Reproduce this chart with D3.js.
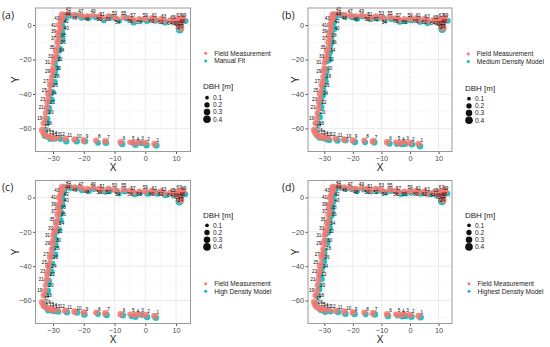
<!DOCTYPE html>
<html>
<head>
<meta charset="utf-8">
<script src="https://cdn.jsdelivr.net/npm/d3@7"></script>
<style>
body { margin: 0; background: #fff; }
svg { display: block; font-family: "Liberation Sans", Arial, sans-serif; }
</style>
</head>
<body>
<div id="chart"></div>
<script>
// tree ids and field measurements (m)
var treeId = [1,2,3,4,5,6,7,8,9,10,11,12,13,14,15,16,17,
	18,19,20,21,22,23,24,25,26,27,28,29,30,31,32,33,34,35,36,37,38,39,40,41,42,43,44,
	45,46,47,48,49,50,51,52,53,54,55,56,57,58,59,60,61,62,63,64,65,66,67,68,69,70,71,72];
var fieldX = [3,0,-2,-3.5,-5,-8,-13,-16,-20,-23,-26,-28.5,-30,-31,-32,-33,-33.5,
	-33,-32.5,-32.5,-32,-32,-31.5,-31.5,-31,-31,-30.5,-30.5,-30,-30,-30,-29.5,-29,-29,-28.5,-28.5,-28,-28.5,-28,-27.5,-28,-27.5,-27,-27,
	-25,-23,-21,-19,-17,-15,-14,-12,-10,-9,-7,-5,-4,-2,0,2,3,5,6,8,9,10,11,12,12.5,11.5,11.5,10.5];
var fieldY = [-69,-68.5,-68,-68.5,-68,-68,-67.5,-67,-67,-66.5,-66,-65.5,-65.5,-65,-64.5,-63,-61,
	-57,-54,-51,-48,-45,-43,-40,-38,-35,-33,-30,-27,-25,-22,-20,-18,-15,-13,-10,-8,-6,-4,-2,0,2,4,6,
	6.5,6,5.5,5,5.5,5,4,5,4.5,3.5,4.5,4,3,3.5,3.5,4,3,3.5,2.5,3,2,3,3.5,4,3,1,-1.5,0.5];
var dbh = [0.3,0.3,0.25,0.3,0.2,0.3,0.3,0.25,0.3,0.3,0.3,0.25,0.3,0.3,0.25,0.3,0.3,
	0.3,0.25,0.2,0.3,0.2,0.25,0.3,0.2,0.25,0.3,0.2,0.3,0.25,0.2,0.3,0.25,0.3,0.2,0.3,0.25,0.2,0.3,0.25,0.3,0.25,0.3,0.35,
	0.3,0.25,0.3,0.3,0.25,0.3,0.25,0.3,0.25,0.2,0.3,0.25,0.3,0.25,0.3,0.25,0.3,0.25,0.3,0.2,0.25,0.3,0.25,0.3,0.25,0.3,0.4,0.2];

// model position errors against field (m), per tree
var manualDx = [0.6,0.4,0.7,0.3,0.8,0.5,0.2,0.6,0.4,0.7,0.3,0.9,0.5,0.2,0.6,0.4,0.8,
	0.9,0.7,1.0,0.6,0.8,1.1,0.7,0.9,0.5,1.0,0.8,0.6,1.2,0.7,0.9,0.5,1.0,0.8,0.6,1.1,0.7,0.9,0.5,1.0,0.8,0.6,0.9,
	0.4,0.7,0.3,0.6,0.8,0.2,0.5,0.7,0.3,0.6,0.9,0.4,0.2,0.7,0.5,0.8,0.3,0.6,0.4,0.9,0.5,0.2,0.7,-0.4,0.6,-0.5,-0.3,0.4];
var manualDy = [-0.9,-1.2,-0.6,-1.0,-0.4,-1.1,-0.8,-1.3,-0.5,-0.9,-1.4,-0.7,-0.3,-1.0,-0.6,-1.2,-0.8,
	0.3,-0.4,0.5,-0.2,0.6,-0.3,0.2,-0.6,0.4,-0.1,0.7,-0.5,0.1,-0.3,0.5,-0.7,0.2,-0.4,0.6,-0.2,0.3,-0.5,0.1,-0.8,0.4,-0.3,-0.6,
	-0.9,-0.5,-1.1,-0.7,-1.0,-0.6,-1.2,-0.4,-0.9,-1.1,-0.5,-0.8,-1.3,-0.6,-1.0,-0.7,-0.4,-1.2,-0.8,-0.9,-0.5,-1.1,-0.7,-1.0,-0.6,-0.3,-1.2,-0.4];
var mediumDx = [0.5,0.7,0.3,0.6,0.4,0.8,0.5,0.3,0.7,0.4,0.6,0.2,0.8,0.5,0.3,0.7,0.4,
	0.8,1.0,0.6,0.9,0.7,0.5,1.1,0.8,0.6,0.9,1.0,0.7,0.5,0.8,1.2,0.6,0.9,0.7,1.0,0.5,0.8,0.6,1.1,0.7,0.9,0.8,0.6,
	0.6,0.3,0.8,0.5,0.4,0.7,0.2,0.6,0.8,0.3,0.5,0.7,0.4,0.6,0.3,0.9,0.5,0.7,0.2,0.6,0.8,0.4,0.5,-0.3,0.7,-0.4,-0.2,0.5];
var mediumDy = [-1.3,-0.7,-1.0,-0.5,-1.2,-0.8,-0.6,-1.1,-0.9,-0.4,-1.0,-1.3,-0.7,-0.5,-0.9,-1.1,-0.6,
	-0.2,0.5,-0.6,0.3,-0.1,0.6,-0.4,0.2,-0.7,0.4,-0.3,0.1,-0.5,0.7,-0.2,0.3,-0.6,0.5,-0.1,0.2,-0.4,0.6,-0.3,0.1,-0.5,0.4,-0.2,
	-0.6,-1.0,-0.8,-1.2,-0.5,-0.9,-0.7,-1.1,-0.4,-0.8,-1.0,-0.6,-0.9,-1.2,-0.5,-0.7,-1.0,-0.6,-1.1,-0.4,-0.8,-0.9,-1.2,-0.7,-0.5,-0.6,-0.9,-0.8];
var highDx = [0.4,0.6,0.8,0.3,0.5,0.7,0.4,0.6,0.2,0.8,0.5,0.3,0.6,0.7,0.4,0.5,0.6,
	0.7,0.9,1.1,0.6,0.8,1.0,0.5,0.9,0.7,1.2,0.6,0.8,1.0,0.5,0.7,0.9,0.6,1.1,0.8,0.7,0.5,1.0,0.6,0.9,0.7,0.5,0.8,
	0.5,0.8,0.4,0.7,0.3,0.6,0.9,0.4,0.7,0.5,0.3,0.8,0.6,0.4,0.7,0.5,0.9,0.3,0.6,0.8,0.4,0.7,0.3,-0.5,0.5,-0.3,-0.4,0.6];
var highDy = [-1.0,-1.1,-0.5,-0.9,-1.3,-0.6,-1.0,-0.8,-1.2,-0.5,-0.9,-1.1,-0.6,-0.8,-1.3,-0.7,-1.0,
	0.4,-0.3,0.2,-0.6,0.5,-0.1,0.3,-0.4,0.6,-0.2,0.1,-0.7,0.4,-0.3,0.2,-0.5,0.7,-0.1,0.3,-0.6,0.5,-0.2,0.4,-0.4,0.1,-0.7,-0.3,
	-0.8,-0.6,-1.2,-0.9,-0.5,-1.1,-0.7,-1.0,-0.6,-1.3,-0.8,-0.5,-1.0,-0.7,-1.2,-0.9,-0.6,-0.8,-1.1,-0.5,-1.0,-0.7,-0.9,-0.6,-1.1,-0.4,-1.0,-0.7];
var highestDx = [0.7,0.5,0.4,0.8,0.6,0.3,0.7,0.5,0.6,0.4,0.8,0.6,0.3,0.5,0.7,0.6,0.5,
	0.6,0.8,0.9,1.0,0.7,0.6,0.9,1.1,0.8,0.5,0.7,1.0,0.9,0.6,0.8,1.0,0.7,0.5,0.9,0.8,1.1,0.6,0.7,0.8,1.0,0.6,0.7,
	0.3,0.6,0.7,0.4,0.8,0.5,0.3,0.6,0.5,0.7,0.4,0.6,0.8,0.5,0.4,0.6,0.7,0.5,0.8,0.3,0.6,0.5,0.4,-0.2,0.6,-0.4,-0.3,0.5];
var highestDy = [-0.8,-1.0,-1.2,-0.7,-0.9,-1.1,-0.6,-1.0,-0.8,-1.2,-0.7,-0.9,-1.0,-0.6,-1.1,-0.8,-0.9,
	-0.3,0.4,-0.2,0.5,-0.5,0.3,-0.1,0.6,-0.4,0.2,-0.6,0.4,-0.2,0.5,-0.3,0.1,-0.5,0.3,-0.6,0.4,-0.1,0.2,-0.4,0.5,-0.2,0.3,-0.5,
	-0.7,-0.9,-0.6,-1.1,-0.8,-1.0,-0.5,-0.9,-1.2,-0.7,-0.6,-1.0,-0.8,-1.1,-0.6,-0.9,-0.7,-1.0,-0.5,-0.8,-1.2,-0.6,-0.9,-0.8,-0.7,-0.5,-0.8,-0.6];

var xTicks = [-30, -20, -10, 0, 10];
var yTicks = [-60, -40, -20, 0];
var xMinor = [-35, -25, -15, -5, 5];
var yMinor = [-70, -50, -30, -10];
var sizeBreaks = [0.1, 0.2, 0.3, 0.4];

var red = "#F8766D", cyan = "#00BFC4";

var panels = [
	{tag: "(a)", model: "Manual Fit", dx: manualDx, dy: manualDy,
		l: 35.5, r: 190.5, t: 8, b: 151.5, ox: 0, oy: 0,
		colX: 205.7, colY: 53.3, sizeX: 207, sizeTitleY: 86, sizeY: 97.7},
	{tag: "(b)", model: "Medium Density Model", dx: mediumDx, dy: mediumDy,
		l: 308, r: 452, t: 8, b: 151.5, ox: 280, oy: 0,
		colX: 468.3, colY: 54, sizeX: 469, sizeTitleY: 88, sizeY: 98.7},
	{tag: "(c)", model: "High Density Model", dx: highDx, dy: highDy,
		l: 35.5, r: 190.5, t: 180.5, b: 323.5, ox: 0, oy: 172,
		colX: 205.7, colY: 283.7, sizeX: 207, sizeTitleY: 214.7, sizeY: 225.3},
	{tag: "(d)", model: "Highest Density Model", dx: highestDx, dy: highestDy,
		l: 308, r: 452, t: 180.5, b: 323.5, ox: 280, oy: 172,
		colX: 469, colY: 283.7, sizeX: 469, sizeTitleY: 214.7, sizeY: 225.3}
];

var svg = d3.select("#chart").append("svg")
	.attr("width", 550)
	.attr("height", 347);

var rScale = d3.scaleSqrt().domain([0.05, 0.4]).range([1.3, 3.8]);

var trees = treeId.map(function(id, i) {
	return {id: id, x: fieldX[i], y: fieldY[i], dbh: dbh[i], i: i};
});

panels.forEach(function(p) {
	var x = d3.scaleLinear().domain([-35.7, 14.7]).range([p.l, p.r]);
	var y = d3.scaleLinear().domain([-73.4, 9.9]).range([p.b, p.t]);
	var g = svg.append("g");

	// grid
	g.selectAll(".vminor").data(xMinor).enter().append("line")
		.attr("x1", function(d) { return x(d); }).attr("x2", function(d) { return x(d); })
		.attr("y1", p.t).attr("y2", p.b)
		.attr("stroke", "#f2f2f2").attr("stroke-width", 0.5);
	g.selectAll(".hminor").data(yMinor).enter().append("line")
		.attr("y1", function(d) { return y(d); }).attr("y2", function(d) { return y(d); })
		.attr("x1", p.l).attr("x2", p.r)
		.attr("stroke", "#f2f2f2").attr("stroke-width", 0.5);
	g.selectAll(".vmajor").data(xTicks).enter().append("line")
		.attr("x1", function(d) { return x(d); }).attr("x2", function(d) { return x(d); })
		.attr("y1", p.t).attr("y2", p.b)
		.attr("stroke", "#e6e6e6").attr("stroke-width", 0.8);
	g.selectAll(".hmajor").data(yTicks).enter().append("line")
		.attr("y1", function(d) { return y(d); }).attr("y2", function(d) { return y(d); })
		.attr("x1", p.l).attr("x2", p.r)
		.attr("stroke", "#e6e6e6").attr("stroke-width", 0.8);

	// axes
	var xAxis = g.append("g")
		.attr("transform", "translate(0," + p.b + ")")
		.call(d3.axisBottom(x).tickValues(xTicks).tickSize(2.5).tickPadding(1.5));
	var yAxis = g.append("g")
		.attr("transform", "translate(" + p.l + ",0)")
		.call(d3.axisLeft(y).tickValues(yTicks).tickSize(2.5).tickPadding(1.5));
	[xAxis, yAxis].forEach(function(a) {
		a.select(".domain").remove();
		a.selectAll("line").attr("stroke", "#555");
		a.selectAll("text").attr("fill", "#4d4d4d").style("font-size", "7.4px").attr("font-family", null);
	});

	// model points under field points
	g.selectAll(".model").data(trees).enter().append("circle")
		.attr("cx", function(d) { return x(d.x + p.dx[d.i]); })
		.attr("cy", function(d) { return y(d.y + p.dy[d.i]); })
		.attr("r", function(d) { return rScale(d.dbh); })
		.attr("fill", cyan).attr("fill-opacity", 0.9);
	g.selectAll(".field").data(trees).enter().append("circle")
		.attr("cx", function(d) { return x(d.x); })
		.attr("cy", function(d) { return y(d.y); })
		.attr("r", function(d) { return rScale(d.dbh); })
		.attr("fill", red).attr("fill-opacity", 0.85);

	// tree id labels
	g.selectAll(".lab").data(trees).enter().append("text")
		.attr("x", function(d) {
			if (d.id <= 17) return x(d.x) + 2;
			if (d.id <= 44) return d.id % 2 ? x(d.x) - 3 : x(d.x) + 3;
			return x(d.x);
		})
		.attr("y", function(d) {
			if (d.id <= 17) return y(d.y) - 2;
			if (d.id <= 44) return y(d.y) + 1.5;
			return d.id % 2 ? y(d.y) - 2.5 : y(d.y) + 5;
		})
		.attr("text-anchor", function(d) {
			if (d.id <= 17) return "start";
			if (d.id <= 44) return d.id % 2 ? "end" : "start";
			return "middle";
		})
		.style("font-size", "4.6px")
		.attr("fill", "#000")
		.text(function(d) { return d.id; });

	// border
	g.append("rect")
		.attr("x", p.l).attr("y", p.t)
		.attr("width", p.r - p.l).attr("height", p.b - p.t)
		.attr("fill", "none").attr("stroke", "#9a9a9a").attr("stroke-width", 1);

	// titles
	g.append("text")
		.attr("x", (p.l + p.r) / 2).attr("y", p.b + 19)
		.attr("text-anchor", "middle").style("font-size", "10px").attr("fill", "#222")
		.text("X");
	g.append("text")
		.attr("transform", "translate(" + (p.ox + 19) + "," + ((p.t + p.b) / 2) + ")rotate(-90)")
		.attr("text-anchor", "middle").style("font-size", "10px").attr("fill", "#222")
		.text("Y");
	g.append("text")
		.attr("x", p.ox + 2).attr("y", p.oy + 19)
		.style("font-size", "10.5px").attr("fill", "#222")
		.style("font-family", "'Open Sans', sans-serif")
		.text(p.tag);

	// colour legend
	var cl = g.selectAll(".cleg").data([["Field Measurement", red], [p.model, cyan]]).enter().append("g")
		.attr("transform", function(d, i) { return "translate(" + p.colX + "," + (p.colY + i * 7.6) + ")"; });
	cl.append("circle").attr("r", 1.5).attr("fill", function(d) { return d[1]; });
	cl.append("text").attr("x", 8.5).attr("y", 2.3)
		.style("font-size", "6.6px").attr("fill", "#222")
		.text(function(d) { return d[0]; });

	// size legend
	g.append("text")
		.attr("x", p.sizeX - 4).attr("y", p.sizeTitleY + 3)
		.style("font-size", "8px").attr("fill", "#222")
		.text("DBH [m]");
	var sl = g.selectAll(".sleg").data(sizeBreaks).enter().append("g")
		.attr("transform", function(d, i) { return "translate(" + p.sizeX + "," + (p.sizeY + i * 7.2) + ")"; });
	sl.append("circle").attr("r", function(d) { return rScale(d); }).attr("fill", "#111");
	sl.append("text").attr("x", 6).attr("y", 2.3)
		.style("font-size", "6.6px").attr("fill", "#222")
		.text(function(d) { return d; });
});
</script>
</body>
</html>
